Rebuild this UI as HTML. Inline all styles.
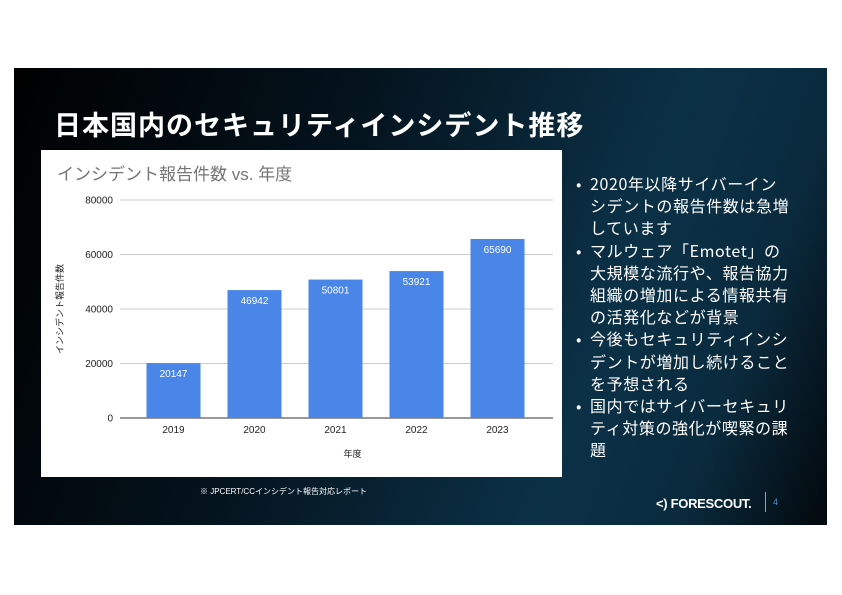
<!DOCTYPE html>
<html><head><meta charset="utf-8"><style>
body{margin:0;width:842px;height:595px;background:#fff;position:relative;overflow:hidden;font-family:"Liberation Sans","Noto Sans CJK JP",sans-serif}
#slide{position:absolute;left:14px;top:68px;width:813px;height:457px;background:linear-gradient(110deg,#000 0%,#04121c 35%,#0b3147 70%,#0a2a3d 85%,#03080c 100%)}
#title{position:absolute;left:40px;top:36px;color:#fff;font-size:27px;font-weight:bold;letter-spacing:1px;font-family:"Noto Sans CJK JP",sans-serif}
#chartbox{position:absolute;left:27px;top:82px;width:521px;height:327px;background:#fff}
ul{position:absolute;left:560px;top:104px;width:218px;margin:0;padding:0;list-style:none;color:#fff;font-size:16px;line-height:22.2px;letter-spacing:0.6px;font-family:"Noto Sans CJK JP",sans-serif}
li{padding-left:16px;position:relative}
li:before{content:"•";position:absolute;left:2px}
#logo{position:absolute;left:642px;top:428px;color:#fff;font-weight:bold;font-size:13px;letter-spacing:-0.3px}
#pg{position:absolute;left:751px;top:424px;border-left:1px solid #8aa;height:20px;padding-left:7px;color:#4a8ccc;font-size:9px;line-height:20px}
#note{position:absolute;left:200px;top:486px;font-size:8px;color:#fff}
</style></head><body>
<div id="slide">
<div id="title">日本国内のセキュリティインシデント推移</div>
<div id="chartbox"><svg id="svg" width="521" height="327"></svg></div>
<ul>
<li>2020年以降サイバーインシデントの報告件数は急増しています</li>
<li>マルウェア「Emotet」の大規模な流行や、報告協力組織の増加による情報共有の活発化などが背景</li>
<li>今後もセキュリティインシデントが増加し続けることを予想される</li>
<li>国内ではサイバーセキュリティ対策の強化が喫緊の課題</li>
</ul>
<div id="logo">&lt;) FORESCOUT.</div>
<div id="pg">4</div>
</div>
<div id="note">※ JPCERT/CCインシデント報告対応レポート</div>
<script>
const categories=["2019","2020","2021","2022","2023"];
const values=[20147,46942,50801,53921,65690];
const ticks=[0,20000,40000,60000,80000];
const NS="http://www.w3.org/2000/svg";
const svg=document.getElementById('svg');
const y0=268,yTop=50,xL=79,xR=512;
const y=v=>y0-(v/80000)*(y0-yTop);
const bw=81,x=i=>xL+13+bw*i+bw/2;
function mk(t,a,txt){const e=document.createElementNS(NS,t);for(const k in a)e.setAttribute(k,a[k]);if(txt!=null)e.textContent=txt;svg.appendChild(e);return e;}
let e=mk('text',{x:16,y:30,'font-size':17,fill:'#757575','font-family':'Liberation Sans,Noto Sans CJK JP,sans-serif'},'インシデント報告件数 vs. 年度');


ticks.forEach(t=>{
 let l=mk('line',{x1:xL,x2:xR,y1:y(t),y2:y(t),stroke:t==0?'#333':'#ccc','stroke-width':1});
 
 
 let tx=mk('text',{x:72,y:y(t)+3.5,'font-size':10,'text-anchor':'end',fill:'#222'},String(t));
 
 
});
values.forEach((v,i)=>{
 let r=mk('rect',{x:x(i)-27,y:y(v),width:54,height:y0-y(v),fill:'#4a86e8'});
 
 
 let t=mk('text',{x:x(i),y:y(v)+14,'font-size':10,'text-anchor':'middle',fill:'#fff'},String(v));
 
 
 let c=mk('text',{x:x(i),y:y0+15,'font-size':10,'text-anchor':'middle',fill:'#222'},categories[i]);
 
 
});
e=mk('text',{x:(xL+xR)/2+16,y:307,'font-size':9,'text-anchor':'middle',fill:'#222'},'年度');


e=mk('text',{x:0,y:0,'font-size':9,'text-anchor':'middle',fill:'#222',transform:'translate(22,159) rotate(-90)'},'インシデント報告件数');


</script>
</body></html>
